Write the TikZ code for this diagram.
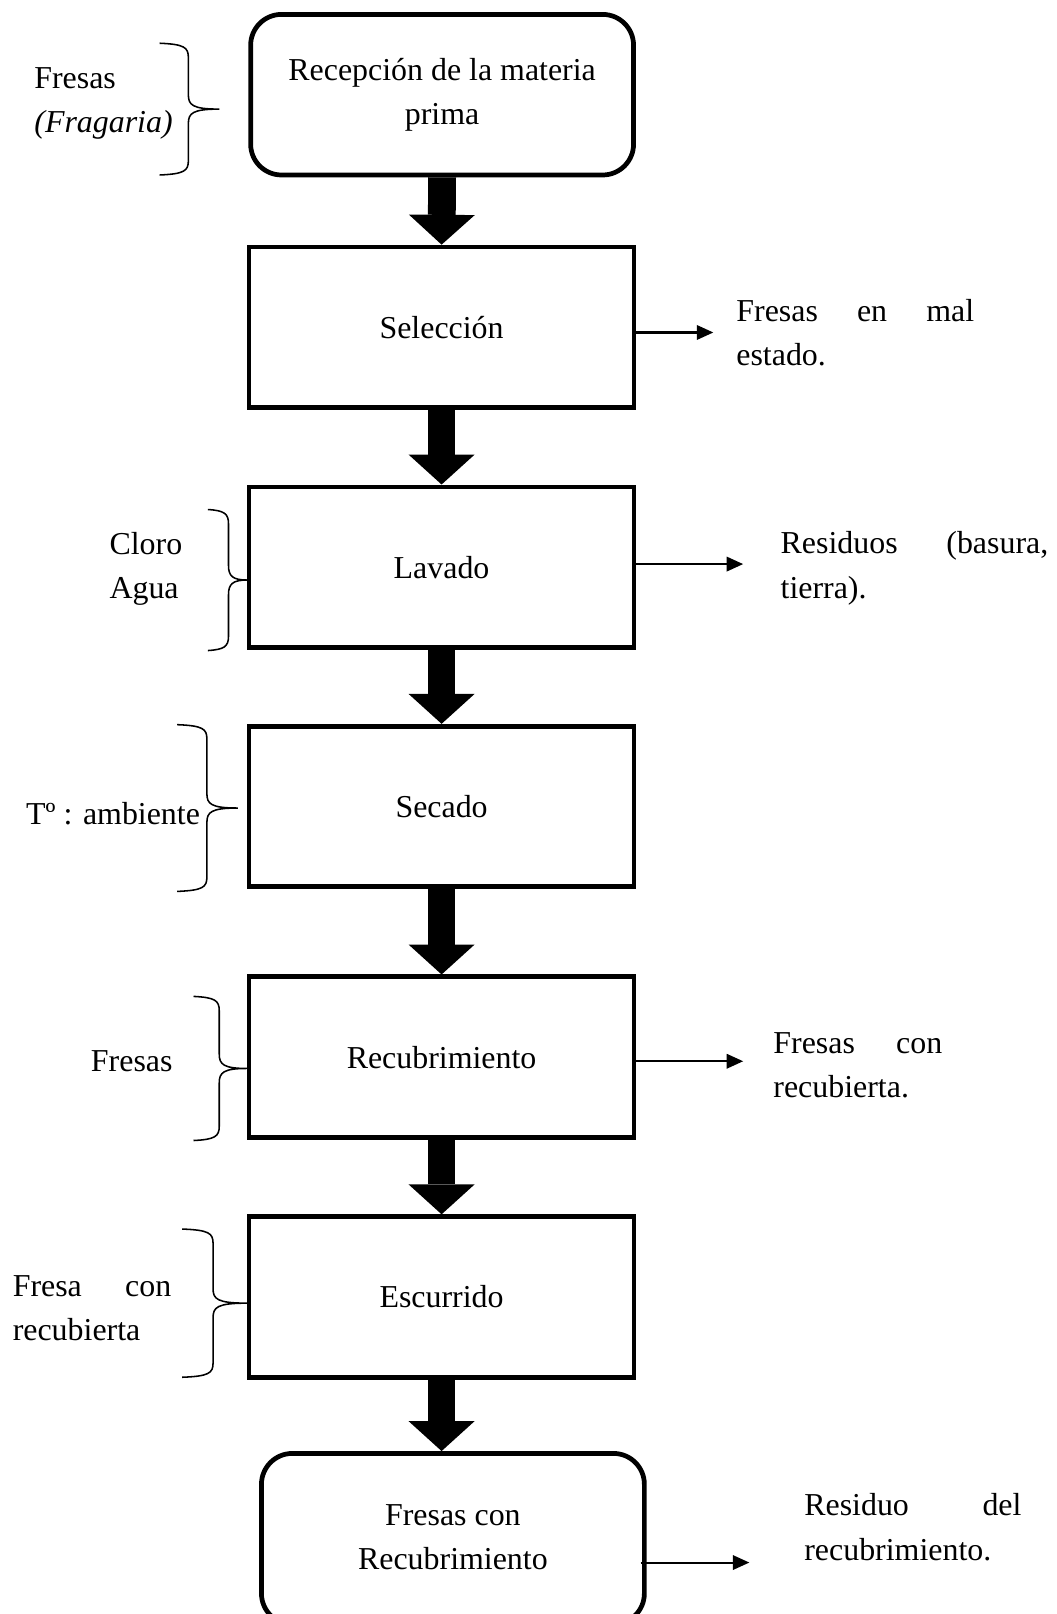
\documentclass[tikz,border=0pt]{standalone}
\usepackage{fontspec}
\setmainfont{Liberation Serif}
\usetikzlibrary{arrows.meta}

\tikzset{
  caja/.style={draw, line width=2.3pt, minimum width=187pt, minimum height=78pt, align=center, inner sep=2pt},
  flecha/.style={line width=13.5pt, -{Triangle[width=32pt,length=14.5pt,line width=0pt]}},
  salida/.style={line width=1pt, -{Triangle[width=7pt,length=8pt]}},
  texto/.style={anchor=west, align=left, inner sep=0pt}
}
% llave: x brazos, x linea, x punta, y arriba, y abajo
\newcommand{\llave}[5]{%
  \draw[line width=0.75pt] (#1,#4) .. controls (#2-4,#4+1) and (#2,#4+4) .. (#2,#4+14)
    -- (#2,{(#4+#5)/2-14}) .. controls (#2,{(#4+#5)/2-4}) and (#2+4,{(#4+#5)/2}) .. (#3,{(#4+#5)/2})
    .. controls (#2+4,{(#4+#5)/2}) and (#2,{(#4+#5)/2+4}) .. (#2,{(#4+#5)/2+14})
    -- (#2,#5-14) .. controls (#2,#5-4) and (#2-4,#5-1) .. (#1,#5);}

\begin{document}
\begin{tikzpicture}[x=0.5pt, y=-0.5pt, every node/.style={font=\fontsize{15.5pt}{21.5pt}\selectfont}]
\useasboundingbox (0,0) rectangle (1026,1568);

% cajas del proceso
\node[caja, rounded corners=15pt, minimum width=186pt] (rec) at (429.5,92) {Recepción de la materia\\prima};
\node[caja] (sel) at (429,318) {Selección};
\node[caja] (lav) at (429,551) {Lavado};
\node[caja] (sec) at (429,783.5) {Secado};
\node[caja] (recub) at (429,1027) {Recubrimiento};
\node[caja] (esc) at (429,1260) {Escurrido};
\node[caja, rounded corners=15pt, minimum width=186pt, minimum height=83pt] (fin) at (440,1495) {\raisebox{1.5pt}{\begin{tabular}{@{}c@{}}Fresas con\\Recubrimiento\end{tabular}}};

% flechas gruesas
\draw[flecha] (rec.south) -- (sel.north);
\draw[flecha] (sel.south) -- (lav.north);
\draw[flecha] (lav.south) -- (sec.north);
\draw[flecha] (sec.south) -- (recub.north);
\draw[flecha] (recub.south) -- (esc.north);
\draw[flecha] (esc.south) -- (esc.south |- fin.north);

% salidas
\coordinate (s1) at (693,323);
\coordinate (s2) at (722,548);
\coordinate (s3) at (722,1031);
\coordinate (s4) at (728,1518);
\draw[salida] ([yshift=-2.5pt]sel.east) -- (s1);
\draw[salida] ([yshift=1.5pt]lav.east) -- (s2);
\draw[salida] ([yshift=-2pt]recub.east) -- (s3);
\draw[salida] ([yshift=-11.5pt,xshift=-3pt]fin.east) -- (s4);
\node[texto] (malas) at (715,323.5) {\makebox[115.5pt][s]{Fresas en mal}\\estado.};
\node[texto] (residuos) at (758,552) {\makebox[130pt][s]{Residuos (basura,}\\tierra).};
\node[texto] (cubiertas) at (751,1035) {\makebox[82pt][s]{Fresas con}\\recubierta.};
\node[texto] (residuo) at (781,1483.5) {\makebox[105.5pt][s]{Residuo del}\\recubrimiento.};

% entradas
\node[texto] (fresas) at (33,100.5) {Fresas\\\textit{(Fragaria)}};
\node[texto] (cloro) at (106,552.5) {Cloro\\Agua};
\node[texto] (temp) at (25,790) {Tº : ambiente};
\node[texto] (fresas2) at (88,1031) {Fresas};
\node[texto] (fresa3) at (12,1271) {\makebox[77pt][s]{Fresa con}\\recubierta};

\llave{155}{183}{213}{42}{170}
\llave{202}{222}{240}{495}{632}
\llave{172}{201}{231}{704}{866}
\llave{188}{213}{240}{968}{1108}
\llave{177}{207}{240}{1194}{1338}

\end{tikzpicture}
\end{document}
